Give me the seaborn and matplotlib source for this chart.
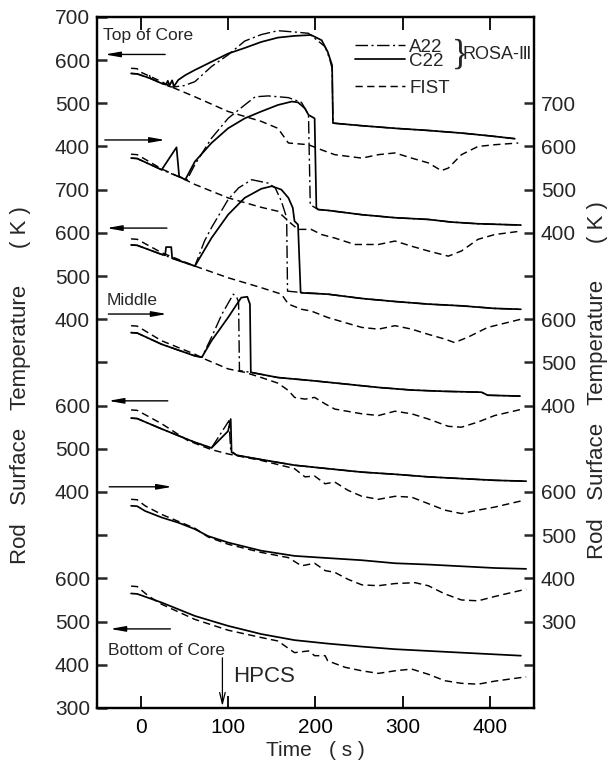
import matplotlib
matplotlib.use("Agg")
import matplotlib.pyplot as plt
from matplotlib import font_manager
from matplotlib.lines import Line2D
import numpy as np
import pandas as pd
import seaborn as sns

# ---- data: time (s) and rod surface temperature (K) ----
# group 1: top of core
G1_A22_T = [-11, -4, 9, 10, 11, 24, 34, 39, 50, 62, 81, 100, 119, 138, 157, 176, 192, 211, 216, 219, 220, 253, 291, 329, 367, 397, 428]
G1_A22_K = [569, 568, 559, 566, 558, 546, 538, 538, 541, 550, 585, 612, 644, 659, 668, 665, 662, 631, 604, 581, 454, 448, 442, 437, 431, 425, 418]
G1_C22_T = [-11, -4, 9, 24, 29, 31, 33, 36, 38, 43, 51, 62, 81, 100, 119, 138, 157, 176, 195, 207, 214, 219, 220, 253, 291, 329, 367, 397, 428]
G1_C22_K = [569, 568, 559, 546, 543, 552, 541, 553, 539, 554, 565, 577, 596, 615, 628, 642, 652, 656, 658, 646, 619, 588, 454, 448, 442, 437, 431, 425, 418]
G1_FIST_T = [-11, -4, 0, 24, 35, 62, 100, 138, 157, 169, 192, 207, 222, 253, 272, 291, 310, 329, 344, 352, 367, 386, 405, 432]
G1_FIST_K = [581, 580, 572, 550, 538, 515, 481, 458, 442, 408, 404, 392, 381, 373, 381, 385, 373, 362, 344, 350, 381, 400, 404, 408]

# group 2
G2_A22_T = [-11, -4, 24, 47, 53, 62, 81, 100, 119, 131, 146, 169, 184, 192, 194, 203, 214, 253, 291, 329, 355, 386, 435]
G2_A22_K = [573, 572, 546, 527, 523, 558, 619, 665, 696, 715, 717, 713, 702, 673, 465, 454, 452, 442, 435, 431, 425, 421, 418]
G2_C22_T = [-11, -4, 24, 41, 44, 51, 62, 81, 100, 119, 138, 157, 173, 180, 188, 192, 199, 201, 203, 214, 253, 291, 329, 355, 386, 435]
G2_C22_K = [573, 572, 546, 598, 531, 523, 565, 608, 642, 665, 681, 696, 704, 702, 688, 673, 665, 458, 454, 452, 442, 435, 431, 425, 421, 418]
G2_FIST_T = [-11, -4, 24, 47, 62, 100, 138, 157, 169, 180, 195, 207, 222, 245, 272, 291, 310, 329, 352, 367, 386, 405, 435]
G2_FIST_K = [582, 581, 548, 527, 512, 481, 459, 450, 427, 408, 408, 396, 388, 373, 373, 381, 369, 358, 346, 358, 385, 396, 404]

# group 3
G3_A22_T = [-11, -4, 24, 62, 73, 81, 100, 112, 127, 146, 154, 161, 167, 168, 183, 214, 253, 291, 329, 367, 405, 435]
G3_A22_K = [572, 571, 550, 523, 581, 612, 677, 704, 723, 715, 704, 673, 635, 465, 462, 458, 448, 441, 435, 431, 425, 423]
G3_C22_T = [-11, -4, 24, 28, 29, 35, 36, 62, 81, 100, 119, 138, 150, 161, 169, 174, 176, 180, 183, 184, 214, 253, 291, 329, 367, 405, 435]
G3_C22_K = [572, 571, 550, 548, 567, 567, 541, 523, 588, 642, 681, 702, 708, 700, 681, 658, 627, 619, 462, 461, 458, 448, 441, 435, 431, 425, 423]
G3_FIST_T = [-11, -4, 24, 62, 100, 138, 161, 169, 184, 195, 214, 234, 253, 272, 291, 310, 329, 348, 359, 374, 397, 435]
G3_FIST_K = [586, 585, 554, 523, 496, 473, 458, 435, 423, 419, 404, 392, 381, 377, 385, 377, 365, 354, 346, 358, 381, 400]

# group 4: middle
G4_A22_T = [-11, -4, 24, 62, 70, 81, 93, 106, 110, 112, 113, 126, 157, 195, 234, 272, 310, 348, 390, 397, 434]
G4_A22_K = [569, 568, 542, 515, 512, 558, 612, 658, 650, 640, 481, 477, 465, 458, 450, 442, 436, 433, 431, 424, 422]
G4_C22_T = [-11, -4, 24, 62, 70, 81, 100, 115, 122, 125, 126, 157, 195, 234, 272, 310, 348, 390, 397, 434]
G4_C22_K = [569, 568, 542, 515, 512, 550, 604, 650, 652, 635, 477, 465, 458, 450, 442, 436, 433, 431, 424, 422]
G4_FIST_T = [-11, -4, 24, 62, 73, 100, 119, 138, 157, 169, 176, 188, 199, 211, 222, 253, 272, 291, 310, 329, 352, 367, 386, 405, 437]
G4_FIST_K = [585, 584, 550, 519, 508, 485, 477, 465, 452, 435, 419, 415, 419, 404, 392, 381, 377, 387, 381, 369, 352, 350, 362, 377, 392]

# group 5
G5_A22_T = [-11, -4, 24, 62, 81, 101, 103, 110, 138, 176, 214, 253, 291, 329, 367, 405, 441]
G5_A22_K = [571, 570, 546, 515, 502, 565, 496, 485, 475, 462, 454, 446, 441, 435, 431, 427, 425]
G5_C22_T = [-11, -4, 24, 62, 81, 100, 103, 104, 110, 138, 176, 214, 253, 291, 329, 367, 405, 441]
G5_C22_K = [571, 570, 546, 515, 502, 541, 569, 492, 485, 475, 462, 454, 446, 441, 435, 431, 427, 425]
G5_FIST_T = [-11, -4, 24, 54, 81, 100, 138, 176, 188, 199, 211, 222, 237, 253, 272, 291, 310, 329, 348, 367, 386, 405, 439]
G5_FIST_K = [590, 589, 558, 519, 498, 488, 473, 454, 435, 437, 419, 423, 404, 390, 383, 390, 388, 373, 358, 350, 358, 365, 381]

# group 6
G6_C22_T = [-11, -4, 5, 24, 43, 62, 77, 100, 138, 176, 214, 253, 291, 329, 367, 405, 441]
G6_C22_K = [568, 567, 556, 541, 529, 514, 498, 483, 464, 452, 447, 442, 435, 432, 428, 424, 422]
G6_FIST_T = [-11, -4, 5, 24, 62, 77, 100, 138, 169, 184, 199, 211, 222, 237, 253, 272, 291, 314, 329, 348, 367, 386, 405, 441]
G6_FIST_K = [583, 582, 568, 548, 516, 496, 479, 460, 448, 429, 435, 418, 414, 398, 385, 383, 388, 390, 383, 364, 350, 348, 358, 375]

# group 7: bottom of core
G7_C22_T = [-11, -4, 24, 62, 100, 138, 176, 214, 253, 291, 329, 367, 435]
G7_C22_K = [565, 564, 544, 513, 490, 471, 457, 449, 442, 436, 432, 428, 421]
G7_FIST_T = [-11, -4, 9, 24, 62, 100, 138, 157, 176, 192, 199, 211, 214, 234, 253, 272, 291, 310, 329, 348, 367, 386, 405, 441]
G7_FIST_K = [582, 581, 559, 540, 505, 480, 463, 455, 428, 432, 421, 421, 409, 394, 386, 380, 386, 390, 378, 363, 357, 355, 362, 372]

# vertical shift of each group on the stacked axis
OFFSETS = [900, 700, 500, 300, 100, -100, -300]

LEFT_TICK_LABELS = ["300", "400", "500", "600", "", "400", "500", "600", "",
                    "400", "500", "600", "700", "400", "500", "600", "700"]
RIGHT_TICK_LABELS = ["", "300", "400", "500", "600", "", "400", "500", "600",
                     "", "400", "500", "600", "700"]

CURVES = [
    (0, "FIST", G1_FIST_T, G1_FIST_K), (0, "C22", G1_C22_T, G1_C22_K), (0, "A22", G1_A22_T, G1_A22_K),
    (1, "FIST", G2_FIST_T, G2_FIST_K), (1, "C22", G2_C22_T, G2_C22_K), (1, "A22", G2_A22_T, G2_A22_K),
    (2, "FIST", G3_FIST_T, G3_FIST_K), (2, "C22", G3_C22_T, G3_C22_K), (2, "A22", G3_A22_T, G3_A22_K),
    (3, "FIST", G4_FIST_T, G4_FIST_K), (3, "C22", G4_C22_T, G4_C22_K), (3, "A22", G4_A22_T, G4_A22_K),
    (4, "FIST", G5_FIST_T, G5_FIST_K), (4, "C22", G5_C22_T, G5_C22_K), (4, "A22", G5_A22_T, G5_A22_K),
    (5, "FIST", G6_FIST_T, G6_FIST_K), (5, "C22", G6_C22_T, G6_C22_K),
    (6, "FIST", G7_FIST_T, G7_FIST_K), (6, "C22", G7_C22_T, G7_C22_K),
]

frames = []
for g, name, t, k in CURVES:
    part = pd.DataFrame({"time": t, "temp": k})
    part["group"] = g
    part["series"] = name
    part["pos"] = part["temp"] + OFFSETS[g]
    frames.append(part)
df = pd.concat(frames, ignore_index=True)

STYLE = {"A22": (0, (9, 2.5, 1.5, 2.5)), "C22": "-", "FIST": (0, (5, 3))}
WIDTH = {"A22": 1.0, "C22": 1.25, "FIST": 1.05}

sns.set_style("ticks")
installed = {f.name for f in font_manager.fontManager.ttflist}
BASE = "Liberation Sans" if "Liberation Sans" in installed else "DejaVu Sans"
NARROW = "Liberation Sans Narrow" if "Liberation Sans Narrow" in installed else BASE
SERIF = "Liberation Serif" if "Liberation Serif" in installed else "DejaVu Serif"
plt.rcParams["font.family"] = [BASE, "DejaVu Sans"]
narrow_size = 14.5 if NARROW != BASE else 12.5

fig = plt.figure(figsize=(6.1, 7.67), dpi=100)
ax = fig.add_axes([0.159, 0.077, 0.7164, 0.901])

for (g, name), sub in df.groupby(["group", "series"], sort=False):
    sns.lineplot(data=sub, x="time", y="pos", ax=ax, sort=False, estimator=None,
                 color="black", lw=WIDTH[name], linestyle=STYLE[name])

ax.set_xlim(-50, 450)
ax.set_ylim(0, 1600)
ax.set_xticks([0, 100, 200, 300, 400])
ax.set_yticks(np.arange(0, 1601, 100))
ax.set_yticklabels(LEFT_TICK_LABELS)
ax.tick_params(axis="x", direction="in", length=9, width=1.3, top=True,
               labelsize=15, pad=7, colors="black")
ax.tick_params(axis="y", direction="in", length=7, width=1.8, labelsize=15, pad=5)
for sp in ax.spines.values():
    sp.set_linewidth(1.6)
    sp.set_color("black")

ax2 = ax.twinx()
ax2.set_ylim(0, 1600)
ax2.set_yticks(np.arange(100, 1401, 100))
ax2.set_yticklabels(RIGHT_TICK_LABELS)
ax2.tick_params(axis="y", direction="in", length=7, width=1.8, labelsize=15, pad=5)
for sp in ax2.spines.values():
    sp.set_linewidth(1.6)
    sp.set_color("black")

ax.set_xlabel("Time   ( s )", fontsize=15)
ax.xaxis.set_label_coords(0.5, -0.048)
ylab = "Rod   Surface   Temperature      ( K )"
ax.set_ylabel(ylab, fontsize=16)
ax.yaxis.set_label_coords(-0.15, 0.467)
ax2.set_ylabel(ylab, fontsize=16, rotation=90)
ax2.yaxis.set_label_coords(1.122, 0.475)

# position arrows for each group (left axis <- / right axis ->)
arrow_kw = dict(arrowstyle="-|>,head_length=0.9,head_width=0.16", color="black",
                lw=1.0, shrinkA=0, shrinkB=0)
ARROWS = [(28, -41, 1513), (-41, 28, 1315), (30, -39, 1111), (-37, 30, 912),
          (31, -37, 711), (-36, 36, 512), (34, -35, 183)]
for x0, x1, y in ARROWS:
    ax.annotate("", xy=(x1, y), xytext=(x0, y), arrowprops=arrow_kw)

label_font = [NARROW, "DejaVu Sans"]
ax.text(-43, 1556, "Top of Core", fontsize=narrow_size, family=label_font,
        ha="left", va="center")
ax.text(-39, 944, "Middle", fontsize=narrow_size, family=label_font,
        ha="left", va="center")
ax.text(-37, 134, "Bottom of Core", fontsize=narrow_size, family=label_font,
        ha="left", va="center")
ax.annotate("", xy=(93.5, 4), xytext=(93.5, 116),
            arrowprops=dict(arrowstyle="->,head_length=0.8,head_width=0.2",
                            color="black", lw=0.9, shrinkA=0, shrinkB=0))
ax.text(106, 72, "HPCS", fontsize=18 if NARROW != BASE else 16,
        family=label_font, ha="left", va="center")

# legend
h_a22 = Line2D([], [], color="black", lw=WIDTH["A22"], linestyle=STYLE["A22"])
h_c22 = Line2D([], [], color="black", lw=WIDTH["C22"], linestyle=STYLE["C22"])
h_fist = Line2D([], [], color="black", lw=WIDTH["FIST"], linestyle=STYLE["FIST"])
leg1 = ax.legend([h_a22, h_c22], ["A22", "C22"], loc="center left",
                 bbox_to_anchor=(0.59, 0.946), frameon=False, fontsize=13.5,
                 handlelength=2.7, handletextpad=0.2, labelspacing=-0.15,
                 borderpad=0, borderaxespad=0)
ax.add_artist(leg1)
ax.legend([h_fist], ["FIST"], loc="center left", bbox_to_anchor=(0.59, 0.897),
          frameon=False, fontsize=13.5, handlelength=2.7, handletextpad=0.2,
          borderpad=0, borderaxespad=0)
ax.text(0.812, 0.944, "}", transform=ax.transAxes, fontsize=25, ha="left",
        va="center", family=SERIF)
ax.text(0.836, 0.946, "ROSA-Ⅲ", transform=ax.transAxes, fontsize=13,
        ha="left", va="center")

fig.savefig("out.png", dpi=100)
